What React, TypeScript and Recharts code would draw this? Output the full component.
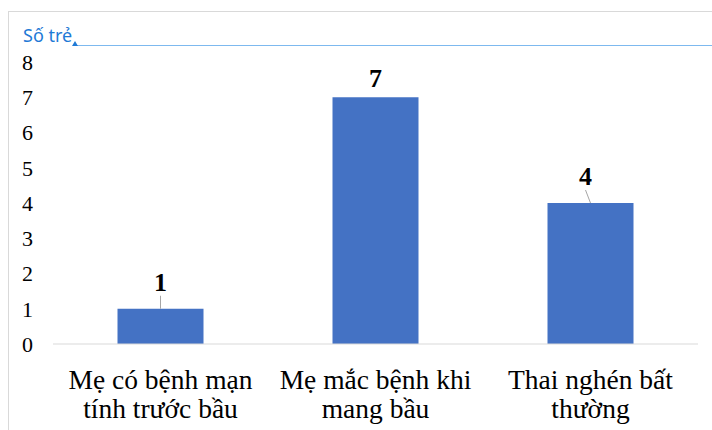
import { BarChart, Bar, XAxis, YAxis, LabelList } from "recharts";

const categories = [
  "Mẹ có bệnh mạn\ntính trước bầu",
  "Mẹ mắc bệnh khi\nmang bầu",
  "Thai nghén bất\nthường",
];
const counts = [1, 7, 4];
const yTicks = [0, 1, 2, 3, 4, 5, 6, 7, 8];

const data = categories.map((name, i) => ({ name, value: counts[i] }));

const SERIF = "'Liberation Serif', 'Times New Roman', serif";

const CategoryTick = ({ x, y, payload }: any) => {
  const lines = String(payload.value).split("\n");
  return (
    <text textAnchor="middle" fontFamily={SERIF} fontSize={27.5} fill="#000">
      {lines.map((line, i) => (
        <tspan key={i} x={x} y={y + 45 + i * 29}>
          {line}
        </tspan>
      ))}
    </text>
  );
};

// value label with a small leader line, as in the original export
const ValueLabel = ({ x, y, width, value, index }: any) => {
  const cx = x + width / 2;
  const shift = index === 2 ? -5 : 0;
  const lift = index === 1 ? 10 : 18;
  const hasLeader = index !== 1;
  return (
    <g>
      {hasLeader && (
        <line x1={cx + shift} y1={y - 13} x2={cx} y2={y} stroke="#a6a6a6" strokeWidth={1} />
      )}
      <text
        x={cx + shift}
        y={y - lift}
        textAnchor="middle"
        fontFamily={SERIF}
        fontWeight="bold"
        fontSize={26}
        fill="#000"
      >
        {value}
      </text>
    </g>
  );
};

export default function App() {
  return (
    <div
      style={{
        position: "absolute",
        left: 0,
        top: 0,
        width: 712,
        height: 430,
        overflow: "hidden",
        background: "#fff",
      }}
    >
      <div
        style={{
          position: "absolute",
          left: 8,
          top: 11,
          width: 740,
          height: 460,
          border: "1px solid #d9d9d9",
        }}
      />
      <div
        style={{
          position: "absolute",
          left: 23,
          top: 24,
          fontFamily: "'Noto Sans', sans-serif",
          fontSize: 18,
          color: "#1f7ad6",
          lineHeight: "22px",
        }}
      >
        Số trẻ
      </div>
      <div
        style={{
          position: "absolute",
          left: 77,
          top: 45,
          width: 640,
          borderTop: "1px solid #7db9ef",
        }}
      />
      <div
        style={{
          position: "absolute",
          left: 72,
          top: 41,
          width: 0,
          height: 0,
          borderLeft: "3px solid transparent",
          borderRight: "3px solid transparent",
          borderBottom: "5px solid #1f7ad6",
        }}
      />
      <BarChart
        width={712}
        height={430}
        data={data}
        margin={{ top: 62, right: 14, left: 8, bottom: 26 }}
        barCategoryGap="30%"
        style={{ position: "absolute", left: 0, top: 0 }}
      >
        <XAxis
          dataKey="name"
          interval={0}
          height={60}
          tickLine={false}
          tickSize={0}
          tickMargin={0}
          stroke="#d9d9d9"
          tick={<CategoryTick />}
        />
        <YAxis
          domain={[0, 8]}
          ticks={yTicks}
          width={45}
          axisLine={false}
          tickLine={false}
          tickSize={0}
          tickMargin={20}
          tick={{ fill: "#000", fontSize: 22, fontFamily: SERIF }}
        />
        <Bar dataKey="value" fill="#4472c4" isAnimationActive={false}>
          <LabelList dataKey="value" content={<ValueLabel />} />
        </Bar>
      </BarChart>
    </div>
  );
}
